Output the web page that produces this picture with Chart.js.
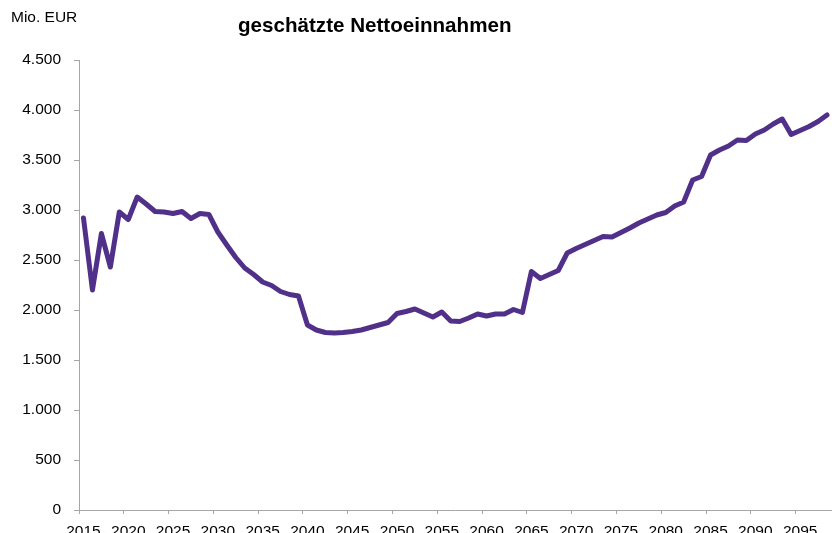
<!DOCTYPE html>
<html>
<head>
<meta charset="utf-8">
<script src="https://cdn.jsdelivr.net/npm/chart.js@4/dist/chart.umd.min.js"></script>
<style>
  body { margin: 0; background: #fff; overflow: hidden; }
  #wrap { position: relative; width: 832px; height: 533px; overflow: hidden; font-family: "Liberation Sans", Arial, sans-serif; }
  #unit { position: absolute; left: 11px; top: 8px; font-size: 15.5px; color: #000; }
  #title { position: absolute; left: 238px; top: 13px; font-size: 20.6px; font-weight: bold; color: #000; }
  /* canvas a bit wider than the picture: the original is cropped at the right */
  #box { position: absolute; left: 0; top: 0; width: 835px; height: 533px; }
</style>
</head>
<body>
<div id="wrap">
  <div id="box"><canvas id="myChart"></canvas></div>
  <div id="unit">Mio. EUR</div>
  <div id="title">geschätzte Nettoeinnahmen</div>
</div>
<script>
// years 2015..2098
var years = [];
for (var y = 2015; y <= 2098; y++) years.push(y);

// geschätzte Nettoeinnahmen, Mio. EUR
var netto = [
  2920, 2200, 2765, 2430, 2980, 2905, 3130, 3060, 2985, 2980, // 2015-2024
  2965, 2985, 2915, 2965, 2955, 2780, 2650, 2525, 2420, 2355, // 2025-2034
  2280, 2245, 2185, 2155, 2140, 1850, 1800, 1775, 1770, 1775, // 2035-2044
  1785, 1800, 1825, 1850, 1875, 1965, 1985, 2010, 1970, 1930, // 2045-2054
  1980, 1890, 1885, 1920, 1960, 1940, 1960, 1960, 2005, 1975, // 2055-2064
  2385, 2315, 2355, 2395, 2570, 2615, 2655, 2695, 2735, 2730, // 2065-2074
  2775, 2820, 2870, 2910, 2950, 2975, 3040, 3080, 3300, 3335, // 2075-2084
  3550, 3600, 3640, 3700, 3695, 3760, 3800, 3860, 3910, 3755, // 2085-2094
  3795, 3835, 3885, 3950                                      // 2095-2098
];

var yTicks = [0, 500, 1000, 1500, 2000, 2500, 3000, 3500, 4000, 4500];

var axisGrey = "#a6a6a6";
var lineColor = "#51308a";

function fmtDE(v) {
  return String(v).replace(/\B(?=(\d{3})+(?!\d))/g, ".");
}

(function () {
  buildChart();
})();

function buildChart() {
  var ctx = document.getElementById("myChart").getContext("2d");
  Chart.defaults.font.family = '"Liberation Sans", Arial, sans-serif';
  Chart.defaults.color = "#000";

  new Chart(ctx, {
    type: "line",
    data: {
      labels: years,
      datasets: [
        {
          label: "geschätzte Nettoeinnahmen",
          data: netto,
          borderColor: lineColor,
          borderWidth: 5,
          pointRadius: 0,
          tension: 0,
          borderJoinStyle: "round",
          borderCapStyle: "round",
          clip: false,
        },
      ],
    },
    options: {
      responsive: true,
      maintainAspectRatio: false,
      animation: false,
      layout: { padding: { top: 60, right: 0, bottom: 0, left: 0 } },
      plugins: { legend: { display: false }, tooltip: { enabled: false } },
      scales: {
        x: {
          type: "category",
          offset: true,
          grid: {
            offset: true,
            drawOnChartArea: false,
            drawTicks: true,
            tickLength: 4,
            color: function (c) {
              return c.index % 5 === 0 ? axisGrey : "rgba(0,0,0,0)";
            },
          },
          border: { color: axisGrey, width: 1 },
          ticks: {
            autoSkip: false,
            maxRotation: 0,
            minRotation: 0,
            padding: 8,
            font: { size: 15.5 },
            callback: function (val) {
              var yr = this.getLabelForValue(val);
              return yr % 5 === 0 ? String(yr) : "";
            },
          },
          afterFit: function (s) { s.height = 23; },
        },
        y: {
          min: 0,
          max: 4500,
          afterBuildTicks: function (s) {
            s.ticks = yTicks.map(function (v) { return { value: v }; });
          },
          grid: {
            drawOnChartArea: false,
            drawTicks: true,
            tickLength: 5,
            color: axisGrey,
          },
          border: { color: axisGrey, width: 1 },
          ticks: {
            padding: 13,
            font: { size: 15.5 },
            callback: function (v) { return fmtDE(v); },
          },
          afterFit: function (s) { s.width = 79; },
        },
      },
    },
  });
}
</script>
</body>
</html>
